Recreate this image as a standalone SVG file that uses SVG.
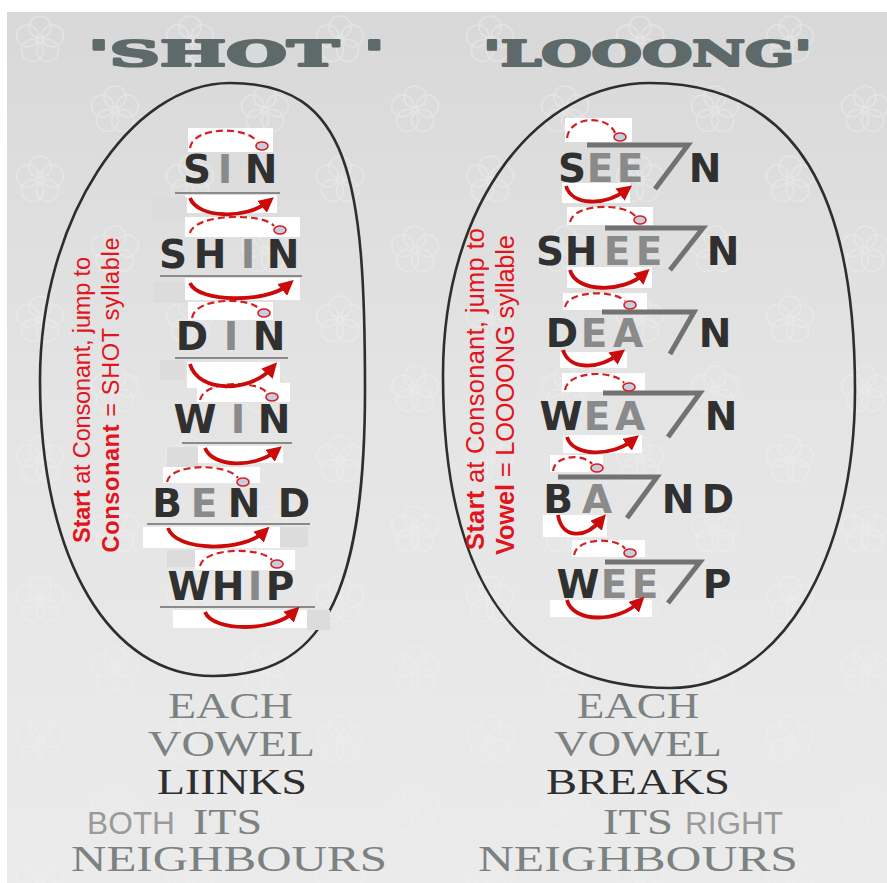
<svg xmlns="http://www.w3.org/2000/svg" width="887" height="883" viewBox="0 0 887 883">
<defs>
<linearGradient id="bg" x1="0" y1="0" x2="0" y2="1">
<stop offset="0" stop-color="#d8d8d8"/>
<stop offset="0.45" stop-color="#e4e4e4"/>
<stop offset="1" stop-color="#ebebeb"/>
</linearGradient>
<pattern id="flowers" width="150" height="140" patternUnits="userSpaceOnUse">
<g fill="none" stroke="#efefef" stroke-width="1.6" opacity="0.45">
<circle cx="40" cy="27" r="11"/><circle cx="52.4" cy="36" r="11"/><circle cx="47.6" cy="50.5" r="11"/><circle cx="32.4" cy="50.5" r="11"/><circle cx="27.6" cy="36" r="11"/><circle cx="40" cy="40" r="4"/>
<circle cx="115" cy="97" r="11"/><circle cx="127.4" cy="106" r="11"/><circle cx="122.6" cy="120.5" r="11"/><circle cx="107.4" cy="120.5" r="11"/><circle cx="102.6" cy="106" r="11"/><circle cx="115" cy="110" r="4"/>
</g>
</pattern>
<marker id="ah" viewBox="0 0 10 10" refX="5" refY="5" markerWidth="4" markerHeight="4" orient="auto" markerUnits="strokeWidth">
<path d="M0,0 L10,5 L0,10 z" fill="#cc0a0a"/>
</marker>
<style>
.w{font-family:"DejaVu Sans","Liberation Sans",sans-serif;font-weight:bold;font-size:39px;text-anchor:middle}
.dk{fill:#303030}
.vw{fill:#8a8a8a}
.ul{stroke:#8a8a8a;stroke-width:2.2}
.box{fill:#ffffff}
.sq{fill:#dcdcdc}
.dash{fill:none;stroke:#d42020;stroke-width:2.2;stroke-dasharray:7 4}
.dot{fill:#c8cce0;stroke:#d42020;stroke-width:1.6}
.arr{fill:none;stroke:#cc0a0a;stroke-width:3.8;marker-end:url(#ah)}
.bar{fill:none;stroke:#727272;stroke-width:5;stroke-linejoin:miter}
.red{font-family:"Liberation Sans",Arial,sans-serif;fill:#e3141c;text-anchor:middle}
.ser{font-family:"Liberation Serif","Times New Roman",serif;fill:#7c8282;font-size:35px}
.sdk{fill:#2e2e2e}
.san{font-family:"Liberation Sans",Arial,sans-serif;fill:#9a9a9a;font-size:31px}
.ttl{font-family:"DejaVu Serif","Liberation Serif",serif;font-weight:bold;fill:#5e6a6a;stroke:#5e6a6a;stroke-width:2.2;stroke-linejoin:round;font-size:36px}
.oval{fill:none;stroke:#2e2e2e;stroke-width:2.6}
</style>
</defs>

<rect x="0" y="0" width="887" height="883" fill="#ffffff"/>
<rect x="7" y="12" width="880" height="871" fill="url(#bg)"/>
<rect x="7" y="12" width="880" height="871" fill="url(#flowers)"/>

<g id="title-shot"><text class="ttl" x="88" y="66" textLength="297" lengthAdjust="spacingAndGlyphs">'SHOT '</text></g>
<g id="title-long"><text class="ttl" x="483" y="66" textLength="329" lengthAdjust="spacingAndGlyphs">'LOOONG'</text></g>

<g id="oval-shot"><path class="oval" d="M230 83 C350 83 365 180 365 390 C365 600 320 676 213 676 C110 676 40 560 40 380 C40 220 130 83 230 83 Z"/></g>
<g id="oval-long"><path class="oval" d="M650 83 C800 83 855 200 855 390 C855 560 780 688 670 688 C530 688 443 600 443 375 C443 200 540 83 650 83 Z"/></g>

<g id="rule-shot">
<text class="red" transform="translate(90,400) rotate(-90)" font-size="23.5" textLength="286"><tspan font-weight="bold">Start</tspan> at Consonant, jump to</text>
<text class="red" transform="translate(119,395) rotate(-90)" font-size="23.5" textLength="315"><tspan font-weight="bold">Consonant</tspan> = SHOT syllable</text>
</g>
<g id="rule-long">
<text class="red" transform="translate(484,389) rotate(-90)" font-size="25.5" textLength="322"><tspan font-weight="bold">Start</tspan> at Consonant, jump to</text>
<text class="red" transform="translate(514,395) rotate(-90)" font-size="25.5" textLength="320"><tspan font-weight="bold">Vowel</tspan> = LOOOONG syllable</text>
</g>

<!-- left words -->
<g id="word-sin">
<rect class="box" x="188" y="128" width="85" height="24"/><rect class="box" x="185" y="195" width="92" height="18"/><rect class="sq" x="153" y="197" width="34" height="23"/>
<line class="ul" x1="175" y1="193" x2="280" y2="193"/>
<text class="w" y="183"><tspan class="dk" x="197">S</tspan><tspan class="vw" x="225">I</tspan><tspan class="dk" x="261">N</tspan></text>
<ellipse class="dot" cx="262" cy="146" rx="6" ry="4"/>
</g>
<g id="word-shin">
<rect class="box" x="185" y="217" width="115" height="20"/><rect class="box" x="185" y="278" width="115" height="22"/><rect class="sq" x="153" y="282" width="32" height="21"/>
<line class="ul" x1="160" y1="276" x2="302" y2="276"/>
<text class="w" y="268"><tspan class="dk" x="173">S</tspan><tspan class="dk" x="210">H</tspan><tspan class="vw" x="248">I</tspan><tspan class="dk" x="283">N</tspan></text>
<ellipse class="dot" cx="280" cy="230" rx="6" ry="4"/>
</g>
<g id="word-din">
<rect class="box" x="188" y="302" width="85" height="18"/><rect class="box" x="187" y="362" width="93" height="26"/><rect class="sq" x="160" y="360" width="25" height="20"/>
<line class="ul" x1="175" y1="358" x2="288" y2="358"/>
<text class="w" y="350"><tspan class="dk" x="192">D</tspan><tspan class="vw" x="231">I</tspan><tspan class="dk" x="269">N</tspan></text>
<ellipse class="dot" cx="264" cy="313" rx="6" ry="4"/>
</g>
<g id="word-win">
<rect class="box" x="197" y="383" width="93" height="19"/><rect class="box" x="198" y="446" width="85" height="17"/><rect class="sq" x="167" y="447" width="31" height="20"/>
<line class="ul" x1="182" y1="443" x2="292" y2="443"/>
<text class="w" y="433"><tspan class="dk" x="195">W</tspan><tspan class="vw" x="238">I</tspan><tspan class="dk" x="274">N</tspan></text>
<ellipse class="dot" cx="272" cy="397" rx="6" ry="4"/>
</g>
<g id="word-bend">
<rect class="box" x="163" y="467" width="97" height="16"/><rect class="box" x="143" y="527" width="137" height="21"/><rect class="sq" x="280" y="527" width="28" height="20"/><rect class="sq" x="167" y="550" width="33" height="17"/>
<line class="ul" x1="147" y1="524" x2="310" y2="524"/>
<text class="w" y="517"><tspan class="dk" x="167">B</tspan><tspan class="vw" x="204">E</tspan><tspan class="dk" x="244">N</tspan><tspan class="dk" x="294">D</tspan></text>
<ellipse class="dot" cx="243" cy="482" rx="6" ry="4"/>
</g>
<g id="word-whip">
<rect class="box" x="195" y="550" width="100" height="20"/><rect class="box" x="173" y="610" width="134" height="18"/><rect class="sq" x="307" y="610" width="23" height="20"/>
<line class="ul" x1="160" y1="607" x2="315" y2="607"/>
<text class="w" y="600" font-size="35"><tspan class="dk" x="189">W</tspan><tspan class="dk" x="228">H</tspan><tspan class="vw" x="255">I</tspan><tspan class="dk" x="280">P</tspan></text>
<ellipse class="dot" cx="277" cy="564" rx="6" ry="4"/>
</g>

<!-- right words -->
<g id="word-seen">
<rect class="box" x="565" y="118" width="67" height="24"/><rect class="box" x="562" y="183" width="68" height="20"/>
<polyline class="bar" points="587,145 688,145 655,189"/>
<text class="w" y="182" font-size="38"><tspan class="dk" x="572">S</tspan><tspan class="vw" x="600">E</tspan><tspan class="vw" x="630">E</tspan><tspan class="dk" x="705">N</tspan></text>
<ellipse class="dot" cx="620" cy="137" rx="6" ry="4"/>
</g>
<g id="word-sheen">
<rect class="box" x="567" y="207" width="86" height="18"/><rect class="box" x="567" y="267" width="85" height="21"/>
<polyline class="bar" points="605,228 703,228 670,270"/>
<text class="w" y="265" font-size="37"><tspan class="dk" x="550">S</tspan><tspan class="dk" x="581">H</tspan><tspan class="vw" x="617">E</tspan><tspan class="vw" x="649">E</tspan><tspan class="dk" x="723">N</tspan></text>
<ellipse class="dot" cx="640" cy="220" rx="6" ry="4"/>
</g>
<g id="word-dean">
<rect class="box" x="563" y="293" width="84" height="17"/><rect class="box" x="560" y="352" width="67" height="16"/>
<polyline class="bar" points="602,312 694,312 670,354"/>
<text class="w" y="347" font-size="38"><tspan class="dk" x="562">D</tspan><tspan class="vw" x="594">E</tspan><tspan class="vw" x="628">A</tspan><tspan class="dk" x="715">N</tspan></text>
<ellipse class="dot" cx="630" cy="305" rx="6" ry="4"/>
</g>
<g id="word-wean">
<rect class="box" x="562" y="373" width="83" height="19"/><rect class="box" x="563" y="435" width="79" height="18"/>
<polyline class="bar" points="603,393 700,393 668,437"/>
<text class="w" y="430" font-size="38"><tspan class="dk" x="561">W</tspan><tspan class="vw" x="597">E</tspan><tspan class="vw" x="630">A</tspan><tspan class="dk" x="721">N</tspan></text>
<ellipse class="dot" cx="629" cy="387" rx="6" ry="4"/>
</g>
<g id="word-band">
<rect class="box" x="550" y="455" width="53" height="17"/><rect class="box" x="543" y="515" width="64" height="22"/>
<polyline class="bar" points="558,477 657,477 627,518"/>
<text class="w" y="513" font-size="38"><tspan class="dk" x="558">B</tspan><tspan class="vw" x="597">A</tspan><tspan class="dk" x="678">N</tspan><tspan class="dk" x="718">D</tspan></text>
<ellipse class="dot" cx="597" cy="468" rx="6" ry="4"/>
</g>
<g id="word-weep">
<rect class="box" x="572" y="540" width="73" height="17"/><rect class="box" x="550" y="600" width="102" height="17"/>
<polyline class="bar" points="605,562 700,562 668,603"/>
<text class="w" y="598" font-size="38"><tspan class="dk" x="578">W</tspan><tspan class="vw" x="614">E</tspan><tspan class="vw" x="645">E</tspan><tspan class="dk" x="717">P</tspan></text>
<ellipse class="dot" cx="630" cy="553" rx="6" ry="4"/>
</g>

<g id="connectors">
<path class="dash" d="M190 148 C193 126 248 126 257 142"/>
<path class="dash" d="M190 233 C195 213 265 213 274 226"/>
<path class="dash" d="M192 318 C195 297 250 297 259 309"/>
<path class="dash" d="M200 400 C204 380 258 380 267 393"/>
<path class="dash" d="M167 482 C170 463 228 463 238 478"/>
<path class="dash" d="M200 566 C204 547 262 547 272 560"/>
<path class="dash" d="M567 138 C570 115 608 115 615 133"/>
<path class="dash" d="M570 222 C574 203 625 203 635 216"/>
<path class="dash" d="M565 307 C568 290 615 290 625 301"/>
<path class="dash" d="M565 390 C568 370 615 370 624 383"/>
<path class="dash" d="M553 471 C555 454 585 454 592 464"/>
<path class="dash" d="M574 555 C577 537 618 537 625 549"/>
<path class="arr" d="M190 198 C198 219 247 219 268 202"/>
<path class="arr" d="M190 283 C198 303 267 303 288 285"/>
<path class="arr" d="M190 364 C198 393 250 393 272 368"/>
<path class="arr" d="M205 448 C213 468 255 468 276 451"/>
<path class="arr" d="M168 528 C176 552 243 552 264 532"/>
<path class="arr" d="M205 612 C213 632 273 632 294 612"/>
<path class="arr" d="M566 186 C572 206 605 206 626 190"/>
<path class="arr" d="M570 270 C576 293 623 293 644 274"/>
<path class="arr" d="M563 350 C569 370 598 370 619 354"/>
<path class="arr" d="M567 437 C573 457 612 457 633 440"/>
<path class="arr" d="M558 515 C562 539 585 539 601 520"/>
<path class="arr" d="M567 600 C573 623 618 623 639 602"/>
</g>

<g id="caption-shot">
<text class="ser" x="168" y="718" textLength="125" lengthAdjust="spacingAndGlyphs">EACH</text>
<text class="ser" x="148" y="756" textLength="167" lengthAdjust="spacingAndGlyphs">VOWEL</text>
<text class="ser sdk" x="157" y="794" textLength="150" lengthAdjust="spacingAndGlyphs">LIINKS</text>
<text class="san" x="87" y="834" textLength="88" lengthAdjust="spacingAndGlyphs">BOTH</text>
<text class="ser" x="193" y="834" textLength="69" lengthAdjust="spacingAndGlyphs">ITS</text>
<text class="ser" x="71" y="871" textLength="316" lengthAdjust="spacingAndGlyphs">NEIGHBOURS</text>
</g>
<g id="caption-long">
<text class="ser" x="577" y="718" textLength="122" lengthAdjust="spacingAndGlyphs">EACH</text>
<text class="ser" x="554" y="756" textLength="168" lengthAdjust="spacingAndGlyphs">VOWEL</text>
<text class="ser sdk" x="546" y="794" textLength="184" lengthAdjust="spacingAndGlyphs">BREAKS</text>
<text class="ser" x="603" y="834" textLength="70" lengthAdjust="spacingAndGlyphs">ITS</text>
<text class="san" x="685" y="834" textLength="98" lengthAdjust="spacingAndGlyphs">RIGHT</text>
<text class="ser" x="478" y="871" textLength="320" lengthAdjust="spacingAndGlyphs">NEIGHBOURS</text>
</g>
</svg>
